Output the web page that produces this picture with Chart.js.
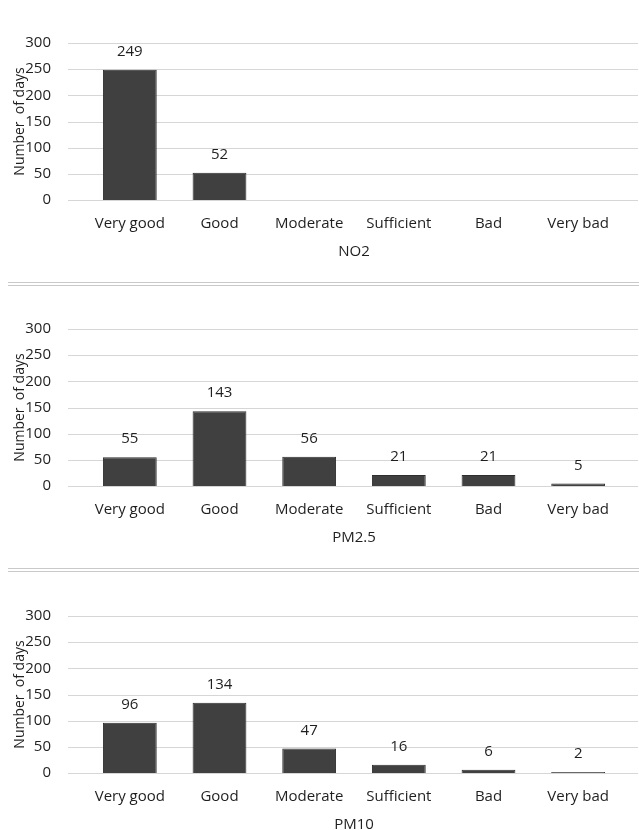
<!DOCTYPE html>
<html>
<head>
<meta charset="utf-8">
<script src="https://cdn.jsdelivr.net/npm/chart.js@4/dist/chart.umd.min.js"></script>
<style>
  html, body { margin: 0; padding: 0; background: #fff; overflow: hidden; }
  #wrap { position: relative; width: 639px; height: 830px; }
  canvas { position: absolute; left: 0; }
  .sep { position: absolute; left: 8px; right: 0; height: 0; border-top: 4px double #c9c9c9; }
</style>
</head>
<body>
<div id="wrap">
  <canvas id="c1" width="639" height="282" style="top:0px"></canvas>
  <div class="sep" style="top:282px"></div>
  <canvas id="c2" width="639" height="282" style="top:286px"></canvas>
  <div class="sep" style="top:568px"></div>
  <canvas id="c3" width="639" height="262" style="top:573px"></canvas>
</div>
<script>
// Air quality index classes
const categories = ['Very good', 'Good', 'Moderate', 'Sufficient', 'Bad', 'Very bad'];

// Number of days in each class, per pollutant
const no2Days  = [249, 52, 0, 0, 0, 0];
const pm25Days = [55, 143, 56, 21, 21, 5];
const pm10Days = [96, 134, 47, 16, 6, 2];

// Y axis ticks
const yMin = 0;
const yMax = 300;
const yStep = 50;

const FONT = "'Open Sans', 'Noto Sans', sans-serif";
const TEXT = '#1f1f1f';
const GRID = '#d6d6d6';
const BAR = '#404040';

// Horizontal gridlines that run a little past the category band on both sides
const wideGrid = {
  id: 'wideGrid',
  beforeDatasetsDraw(chart) {
    const { ctx, chartArea, scales } = chart;
    const y = scales.y;
    ctx.save();
    ctx.strokeStyle = GRID;
    ctx.lineWidth = 1;
    y.ticks.forEach(t => {
      const py = Math.round(y.getPixelForValue(t.value)) + 0.5;
      ctx.beginPath();
      ctx.moveTo(chartArea.left - 17, py);
      ctx.lineTo(chartArea.right + 15, py);
      ctx.stroke();
    });
    ctx.restore();
  }
};

// Value printed above each non-empty bar
const barValues = {
  id: 'barValues',
  afterDatasetsDraw(chart) {
    const { ctx } = chart;
    const ds = chart.data.datasets[0];
    const meta = chart.getDatasetMeta(0);
    ctx.save();
    ctx.font = '15px ' + FONT;
    ctx.fillStyle = TEXT;
    ctx.textAlign = 'center';
    ctx.textBaseline = 'middle';
    meta.data.forEach((bar, i) => {
      const v = ds.data[i];
      if (!v) return;
      ctx.fillText(String(v), bar.x, bar.y - 18);
    });
    ctx.restore();
  }
};

function makeChart(id, values, title, bottomPad) {
  return new Chart(document.getElementById(id), {
    type: 'bar',
    data: {
      labels: categories,
      datasets: [{
        data: values,
        backgroundColor: BAR,
        borderColor: '#2e2e2e',
        borderWidth: 1,
        categoryPercentage: 1,
        barPercentage: 0.6
      }]
    },
    options: {
      responsive: false,
      animation: false,
      events: [],
      layout: { padding: { top: 20, right: 16, bottom: bottomPad, left: 0 } },
      plugins: { legend: { display: false }, tooltip: { enabled: false } },
      scales: {
        x: {
          grid: { display: false, drawTicks: false },
          border: { display: false },
          ticks: { color: TEXT, font: { family: FONT, size: 15 }, padding: 15, maxRotation: 0 },
          title: {
            display: true, text: title, color: TEXT,
            font: { family: FONT, size: 15 }, padding: { top: 0, bottom: 1 }
          },
          afterFit(scale) { scale.height = 62; }
        },
        y: {
          min: yMin, max: yMax,
          grid: { display: false, drawTicks: false },
          border: { display: false },
          ticks: { stepSize: yStep, color: TEXT, font: { family: FONT, size: 15 }, padding: 34 },
          title: {
            display: true, text: 'Number  of days', color: TEXT,
            font: { family: FONT, size: 14 }, padding: { top: 12, bottom: 0 }
          },
          afterFit(scale) { scale.width = 85; }
        }
      }
    },
    plugins: [wideGrid, barValues]
  });
}

makeChart('c1', no2Days, 'NO2', 20);
makeChart('c2', pm25Days, 'PM2.5', 20);
makeChart('c3', pm10Days, 'PM10', 0);
</script>
</body>
</html>
